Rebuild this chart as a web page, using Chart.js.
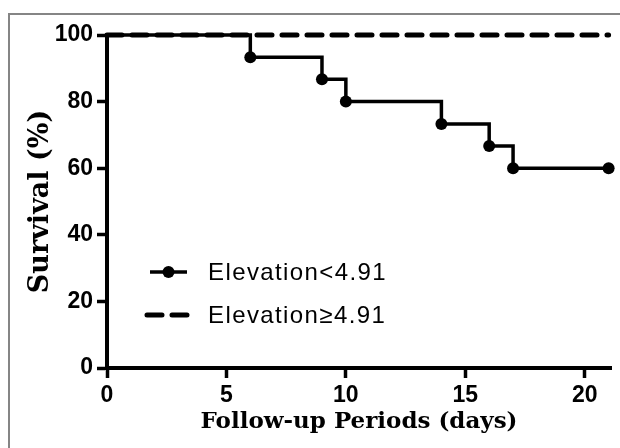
<!DOCTYPE html>
<html>
<head>
<meta charset="utf-8">
<script src="https://cdn.jsdelivr.net/npm/chart.js@4.4.1/dist/chart.umd.min.js"></script>
<style>
  html, body { margin:0; padding:0; background:#fff; }
  #wrap { position:relative; width:620px; height:448px; overflow:hidden; }
  #frame { position:absolute; left:8px; top:13px; width:700px; height:500px;
           border-top:2px solid #858585; border-left:2px solid #858585; }
  canvas { position:absolute; left:0; top:0; }
</style>
</head>
<body>
<div id="wrap">
  <div id="frame"></div>
  <canvas id="chart" width="620" height="448"></canvas>
</div>
<script>
// Kaplan-Meier data
const daysLow = [0, 6, 9, 10, 14, 16, 17, 21];
const survivalLow = [100, 93.3, 86.7, 80, 73.3, 66.7, 60, 60];
const daysHigh = [0, 21];
const survivalHigh = [100, 100];
const seriesNames = ['Elevation<4.91', 'Elevation\u22654.91'];
const xTickStep = 5;
const yTickStep = 20;

const toPoints = (xs, ys) => xs.map((x, i) => ({ x, y: ys[i] }));

// legend drawn by hand: line sample + text, like the original figure
const sideLegend = {
  id: 'sideLegend',
  afterDatasetsDraw(chart) {
    const ctx = chart.ctx;
    const rows = [{ y: 272, x0: 150, x1: 187 }, { y: 315, x0: 147, x1: 190 }];
    chart.data.datasets.forEach((ds, i) => {
      const r = rows[i];
      ctx.save();
      ctx.strokeStyle = ds.borderColor;
      ctx.lineWidth = ds.borderWidth;
      ctx.lineCap = ds.borderCapStyle || 'butt';
      ctx.setLineDash(ds.borderDash || []);
      ctx.beginPath();
      ctx.moveTo(r.x0, r.y);
      ctx.lineTo(r.x1, r.y);
      ctx.stroke();
      if (ds.legendDot) {
        ctx.setLineDash([]);
        ctx.fillStyle = ds.borderColor;
        ctx.beginPath();
        ctx.arc((r.x0 + r.x1) / 2, r.y, 6, 0, Math.PI * 2);
        ctx.fill();
      }
      ctx.fillStyle = '#000';
      ctx.font = '24px "Liberation Sans", Arial, sans-serif';
      ctx.letterSpacing = '1.4px';
      ctx.textBaseline = 'middle';
      ctx.textAlign = 'left';
      ctx.fillText(seriesNames[i], 208, r.y + 1);
      ctx.restore();
    });
  }
};

const tickFont = { family: '"Liberation Sans", Arial, sans-serif', size: 23, weight: 'bold' };

new Chart(document.getElementById('chart').getContext('2d'), {
  type: 'line',
  data: {
    datasets: [
      {
        label: seriesNames[0],
        data: toPoints(daysLow, survivalLow),
        stepped: 'before',
        borderColor: '#000',
        backgroundColor: '#000',
        borderWidth: 3.5,
        pointRadius: c => c.dataIndex === 0 ? 0 : 6,
        pointHoverRadius: 0,
        pointBorderWidth: 0,
        pointBackgroundColor: '#000',
        fill: false,
        clip: false,
        order: 1,
        legendDot: true
      },
      {
        label: seriesNames[1],
        data: toPoints(daysHigh, survivalHigh),
        borderColor: '#000',
        borderWidth: 5,
        borderDash: [15, 10],
        borderCapStyle: 'round',
        pointRadius: 0,
        fill: false,
        clip: false,
        order: 0
      }
    ]
  },
  options: {
    responsive: false,
    animation: false,
    layout: { padding: { left: 0, top: 35, right: 9, bottom: 0 } },
    plugins: { legend: { display: false }, tooltip: { enabled: false } },
    scales: {
      x: {
        type: 'linear',
        min: 0,
        max: 21.1,
        afterFit: s => { s.height = 80; },
        ticks: { stepSize: xTickStep, includeBounds: false, color: '#000', font: tickFont, padding: 4, maxRotation: 0 },
        grid: { drawOnChartArea: false, drawTicks: true, tickLength: 10, tickWidth: 3.5, color: '#000' },
        border: { display: true, width: 4, color: '#000' },
        title: { display: true, text: 'Follow-up Periods (days)', color: '#000',
                 font: { family: '"DejaVu Serif", serif', size: 23, weight: 'bold' }, padding: { top: 0, bottom: 12 } }
      },
      y: {
        type: 'linear',
        min: 0,
        max: 100,
        afterFit: s => { s.width = 107; },
        ticks: { stepSize: yTickStep, color: '#000', font: tickFont, padding: 4 },
        grid: { drawOnChartArea: false, drawTicks: true, tickLength: 10, tickWidth: 3.5, color: '#000' },
        border: { display: true, width: 4, color: '#000' },
        title: { display: true, text: 'Survival (%)', color: '#000',
                 font: { family: '"DejaVu Serif", serif', size: 27, weight: 'bold' }, padding: { top: 25, bottom: 0 } }
      }
    }
  },
  plugins: [sideLegend]
});
</script>
</body>
</html>
